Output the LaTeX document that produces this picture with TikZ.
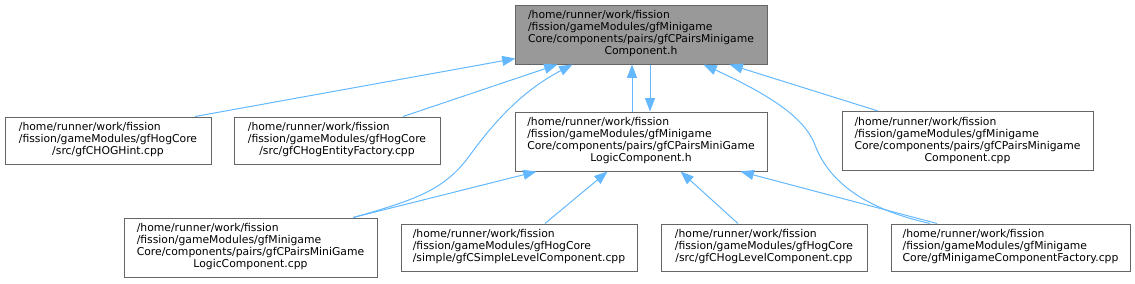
\documentclass[tikz,border=0pt]{standalone}
\usepackage{fontspec}
\newfontfamily\djsans{DejaVu Sans}
\usetikzlibrary{arrows.meta}
\definecolor{edgeblue}{HTML}{63B8FF}
\definecolor{boxborder}{HTML}{666666}
\definecolor{topfill}{HTML}{999999}
\newcommand\lbllines[1]{\begin{tabular}{@{}l@{}}#1\end{tabular}}
\newcommand\lastline[1]{\multicolumn{1}{@{}c@{}}{#1}}
\tikzset{
  box/.style={draw=boxborder, fill=white, line width=0.75pt, inner sep=0pt,
    font=\djsans\fontsize{8.1}{9}\selectfont},
  rootbox/.style={box, fill=topfill},
  edge/.style={draw=edgeblue, line width=0.75pt, -{Triangle[length=10pt,width=7.5pt]}},
}
\begin{document}
\begin{tikzpicture}[x=0.75pt, y=-0.75pt]
\useasboundingbox (0,0) rectangle (1135,283);

\node[rootbox, minimum width=189pt, minimum height=44.25pt] (top) at (641,34.5)
  {\lbllines{/home/runner/work/fission\\ /fission/gameModules/gfMinigame\\ Core/components/pairs/gfCPairsMinigame\\ \lastline{Component.h}}};
\node[box, minimum width=189pt, minimum height=44.25pt] (mid) at (641,141.5)
  {\lbllines{/home/runner/work/fission\\ /fission/gameModules/gfMinigame\\ Core/components/pairs/gfCPairsMiniGame\\ \lastline{LogicComponent.h}}};
\node[box, minimum width=154.5pt, minimum height=35.25pt] (hint) at (108,140.5)
  {\lbllines{/home/runner/work/fission\\ /fission/gameModules/gfHogCore\\ \lastline{/src/gfCHOGHint.cpp}}};
\node[box, minimum width=154.5pt, minimum height=35.25pt] (ent) at (337,140.5)
  {\lbllines{/home/runner/work/fission\\ /fission/gameModules/gfHogCore\\ \lastline{/src/gfCHogEntityFactory.cpp}}};
\node[box, minimum width=188.25pt, minimum height=44.25pt] (pmc) at (967.5,141)
  {\lbllines{/home/runner/work/fission\\ /fission/gameModules/gfMinigame\\ Core/components/pairs/gfCPairsMinigame\\ \lastline{Component.cpp}}};
\node[box, minimum width=189.75pt, minimum height=44.25pt] (lcc) at (250.5,247.5)
  {\lbllines{/home/runner/work/fission\\ /fission/gameModules/gfMinigame\\ Core/components/pairs/gfCPairsMiniGame\\ \lastline{LogicComponent.cpp}}};
\node[box, minimum width=177pt, minimum height=35.25pt] (simple) at (519,247.5)
  {\lbllines{/home/runner/work/fission\\ /fission/gameModules/gfHogCore\\ \lastline{/simple/gfCSimpleLevelComponent.cpp}}};
\node[box, minimum width=154.5pt, minimum height=35.25pt] (level) at (764,247.5)
  {\lbllines{/home/runner/work/fission\\ /fission/gameModules/gfHogCore\\ \lastline{/src/gfCHogLevelComponent.cpp}}};
\node[box, minimum width=179.25pt, minimum height=35.25pt] (fact) at (1010.5,247.5)
  {\lbllines{/home/runner/work/fission\\ /fission/gameModules/gfMinigame\\ \lastline{Core/gfMinigameComponentFactory.cpp}}};

% edges into the root header
\draw[edge] ([xshift=65.25pt]hint.north) -- ([xshift=0.75pt,yshift=4.5pt]top.south west);
\draw[edge] ([xshift=49.5pt]ent.north) -- ([xshift=32.25pt]top.south west);
\draw[edge] ([xshift=77pt]lcc.north) .. controls (415,200) and (445,190) .. (470,155)
  .. controls (492,125) and (520,92) .. ([xshift=43.5pt]top.south west);
\draw[edge] ([xshift=-6.75pt]mid.north) -- ([xshift=-6.75pt]top.south);
\draw[edge] ([xshift=6.75pt]top.south) -- ([xshift=6.75pt]mid.north);
\draw[edge] ([xshift=-60.4pt]fact.north) .. controls (870,210) and (830,185) .. (815,145)
  .. controls (805,118) and (770,95) .. ([xshift=-48pt]top.south east);
\draw[edge] ([xshift=-67.1pt]pmc.north) -- ([xshift=-28.5pt]top.south east);

% edges into the logic component header
\draw[edge] ([xshift=77pt]lcc.north) -- ([xshift=16.5pt]mid.south west);
\draw[edge] ([xshift=19.5pt]simple.north) -- ([xshift=69.75pt]mid.south west);
\draw[edge] ([xshift=-19.5pt]level.north) -- ([xshift=-65.25pt]mid.south east);
\draw[edge] ([xshift=-55.1pt]fact.north) -- ([xshift=-20.25pt]mid.south east);
\end{tikzpicture}
\end{document}
